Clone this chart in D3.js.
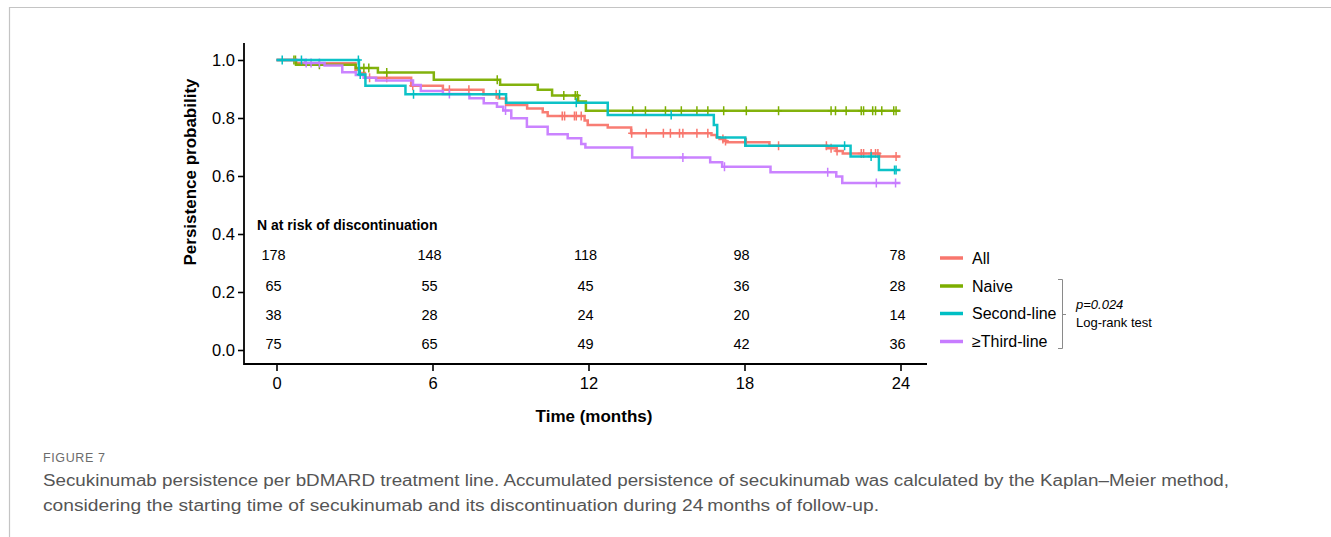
<!DOCTYPE html>
<html>
<head>
<meta charset="utf-8">
<script src="https://cdn.jsdelivr.net/npm/d3@7"></script>
<style>
  html, body { margin: 0; padding: 0; background: #fff; }
  svg { display: block; }
  text { font-family: "Liberation Sans", Arial, sans-serif; }
</style>
</head>
<body>
<svg id="chart" width="1331" height="537"></svg>
<script>
// ---- Kaplan–Meier step data (time in months, persistence probability) ----
const seriesNames = ["All", "Naive", "Second-line", "≥Third-line"];
const seriesColors = ["#F8766D", "#7CAE00", "#00BFC4", "#C77CFF"];

const allEventTimes = [0.75, 3.04, 3.2, 3.4, 5.18, 6.4, 7.96, 8.54, 8.83, 9.64, 10.24, 10.43, 11.85, 11.97, 12.74, 13.64, 16.73, 16.92, 17.04, 17.19, 17.31, 18.96, 21.17, 21.54, 21.78, 23.19];
const allSurvival   = [0.989, 0.966, 0.955, 0.939, 0.911, 0.897, 0.882, 0.867, 0.845, 0.833, 0.820, 0.807, 0.791, 0.776, 0.767, 0.747, 0.741, 0.734, 0.728, 0.721, 0.716, 0.704, 0.696, 0.686, 0.678, 0.667];
const allCensorTimes = [3.58, 4.24, 5.24, 6.65, 7.4, 8.45, 10.99, 11.08, 11.46, 11.53, 11.72, 13.66, 14.22, 14.88, 15.15, 15.5, 15.63, 16.17, 16.59, 17.17, 17.27, 18.07, 19.31, 21.15, 21.33, 21.56, 22.49, 22.58, 22.87, 23.04, 23.13, 23.83];

const naiveEventTimes = [0.75, 3.05, 3.9, 6.05, 8.6, 10.05, 10.6, 11.6, 11.9];
const naiveSurvival   = [0.984, 0.972, 0.957, 0.932, 0.915, 0.897, 0.878, 0.857, 0.825];
const naiveCensorTimes = [0.67, 0.73, 1.65, 3.36, 3.55, 4.24, 8.49, 11.05, 11.49, 11.57, 13.7, 14.19, 14.96, 15.57, 16.17, 16.59, 17.2, 18.07, 19.31, 21.33, 21.5, 21.91, 22.49, 22.58, 22.93, 23.04, 23.28, 23.74, 23.83];

const secondEventTimes = [3.17, 3.42, 4.96, 8.83, 12.74, 16.82, 16.95, 18.03, 22.08, 23.17];
const secondSurvival   = [0.950, 0.911, 0.882, 0.853, 0.810, 0.776, 0.733, 0.704, 0.667, 0.621];
const secondCensorTimes = [0.22, 0.96, 3.15, 3.22, 5.27, 8.58, 11.53, 15.18, 21.85, 22.87, 23.77, 23.83];

const thirdEventTimes = [1.1, 1.85, 2.53, 3.05, 3.35, 3.83, 5.25, 5.55, 6.4, 7.42, 7.97, 8.48, 8.72, 9.03, 9.63, 10.43, 11.2, 11.72, 11.88, 13.68, 16.68, 17.14, 19.0, 21.53, 21.76];
const thirdSurvival   = [0.990, 0.981, 0.958, 0.948, 0.939, 0.929, 0.914, 0.893, 0.883, 0.868, 0.851, 0.839, 0.826, 0.799, 0.770, 0.744, 0.730, 0.710, 0.698, 0.664, 0.647, 0.632, 0.613, 0.598, 0.576];
const thirdCensorTimes = [1.14, 1.33, 1.65, 6.65, 8.81, 15.63, 17.23, 21.2, 23.07, 23.81];

// ---- Number at risk table ----
const riskTimes = [0, 6, 12, 18, 24];
const riskAll    = [178, 148, 118, 98, 78];
const riskNaive  = [65, 55, 45, 36, 28];
const riskSecond = [38, 28, 24, 20, 14];
const riskThird  = [75, 65, 49, 42, 36];

// ---- Axis ticks ----
const xTicks = [0, 6, 12, 18, 24];
const yTicks = [0, 0.2, 0.4, 0.6, 0.8, 1.0];

const followUp = 24;

const captionTitle = "FIGURE 7";
const captionLines = [
  "Secukinumab persistence per bDMARD treatment line. Accumulated persistence of secukinumab was calculated by the Kaplan–Meier method,",
  "considering the starting time of secukinumab and its discontinuation during 24\u2009months of follow-up."
];

// ---- Drawing ----
const svg = d3.select("#chart");

// page frame
svg.append("path")
  .attr("d", "M9.5,537 V7.5 H1331")
  .attr("fill", "none").attr("stroke", "#c4c4c4").attr("stroke-width", 1.2);

const x = d3.scaleLinear().domain([0, 24]).range([276.5, 900.5]);
const y = d3.scaleLinear().domain([0, 1]).range([350, 60]);

const axisX0 = 244, axisY0 = 364;

// y axis
const gy = svg.append("g").attr("transform", `translate(${axisX0},0)`)
  .call(d3.axisLeft(y).tickValues(yTicks).tickFormat(d3.format(".1f")).tickSize(6).tickPadding(3));
gy.select(".domain").remove();
gy.selectAll(".tick line").attr("stroke", "#000").attr("stroke-width", 1.6);
gy.selectAll(".tick text").attr("font-size", 16.5).attr("fill", "#000")
  .attr("font-family", "Liberation Sans, Arial, sans-serif");

// x axis
const gx = svg.append("g").attr("transform", `translate(0,${axisY0})`)
  .call(d3.axisBottom(x).tickValues(xTicks).tickFormat(d3.format("d")).tickSize(7).tickPadding(6));
gx.select(".domain").remove();
gx.selectAll(".tick line").attr("stroke", "#000").attr("stroke-width", 1.6);
gx.selectAll(".tick text").attr("font-size", 16.5).attr("fill", "#000")
  .attr("font-family", "Liberation Sans, Arial, sans-serif");

// axis lines
svg.append("path")
  .attr("d", `M${axisX0},43 V${axisY0} H927`)
  .attr("fill", "none").attr("stroke", "#000").attr("stroke-width", 1.8);

// axis titles
svg.append("text")
  .attr("transform", "translate(196,172) rotate(-90)")
  .attr("text-anchor", "middle")
  .attr("font-size", 17).attr("font-weight", "bold")
  .text("Persistence probability");

svg.append("text")
  .attr("x", 594).attr("y", 422)
  .attr("text-anchor", "middle")
  .attr("font-size", 17).attr("font-weight", "bold")
  .text("Time (months)");

// curves
const series = [
  { times: allEventTimes, surv: allSurvival, censor: allCensorTimes, color: seriesColors[0] },
  { times: naiveEventTimes, surv: naiveSurvival, censor: naiveCensorTimes, color: seriesColors[1] },
  { times: thirdEventTimes, surv: thirdSurvival, censor: thirdCensorTimes, color: seriesColors[3] },
  { times: secondEventTimes, surv: secondSurvival, censor: secondCensorTimes, color: seriesColors[2] }
];

const stepLine = d3.line()
  .x(d => x(d[0])).y(d => y(d[1]))
  .curve(d3.curveStepAfter);

function survAt(s, t) {
  let v = 1;
  for (let i = 0; i < s.times.length; i++) {
    if (s.times[i] <= t) v = s.surv[i];
  }
  return v;
}

series.forEach(s => {
  const pts = [[0, 1]];
  s.times.forEach((t, i) => pts.push([t, s.surv[i]]));
  pts.push([followUp, s.surv[s.surv.length - 1]]);

  svg.append("path")
    .datum(pts)
    .attr("d", stepLine)
    .attr("fill", "none")
    .attr("stroke", s.color)
    .attr("stroke-width", 2.5)
    .attr("stroke-opacity", 0.95);

  // censoring marks
  svg.append("g").selectAll("path")
    .data(s.censor)
    .join("path")
    .attr("d", t => {
      const cx = x(t), cy = y(survAt(s, t));
      return `M${cx},${cy - 4.5} V${cy + 4.5} M${cx - 3.5},${cy} H${cx + 3.5}`;
    })
    .attr("stroke", s.color)
    .attr("stroke-width", 1.5)
    .attr("fill", "none");
});

// number at risk table
svg.append("text")
  .attr("x", 257).attr("y", 230)
  .attr("font-size", 14).attr("font-weight", "bold")
  .text("N at risk of discontinuation");

const riskRows = [riskAll, riskNaive, riskSecond, riskThird];
const riskRowY = [255, 286, 315, 344];
riskRows.forEach((row, r) => {
  svg.append("g").selectAll("text")
    .data(row)
    .join("text")
    .attr("x", (d, i) => x(riskTimes[i]) - 3)
    .attr("y", riskRowY[r])
    .attr("dy", "0.35em")
    .attr("text-anchor", "middle")
    .attr("font-size", 14.5)
    .text(d => d);
});

// legend
const legendY = [258, 286, 313.5, 341.5];
seriesNames.forEach((name, i) => {
  svg.append("line")
    .attr("x1", 940).attr("x2", 963)
    .attr("y1", legendY[i]).attr("y2", legendY[i])
    .attr("stroke", seriesColors[i]).attr("stroke-width", 3.5);
  svg.append("text")
    .attr("x", 972).attr("y", legendY[i])
    .attr("dy", "0.36em")
    .attr("font-size", 16)
    .text(name);
});

// log-rank bracket
svg.append("path")
  .attr("d", "M1058,279.5 H1062.5 V348.5 H1058 M1062.5,314.5 H1066")
  .attr("fill", "none").attr("stroke", "#8a8a8a").attr("stroke-width", 1);
svg.append("text")
  .attr("x", 1076).attr("y", 309)
  .attr("font-size", 13).attr("font-style", "italic")
  .text("p=0.024");
svg.append("text")
  .attr("x", 1076).attr("y", 327)
  .attr("font-size", 13)
  .text("Log-rank test");

// caption
svg.append("text")
  .attr("x", 43).attr("y", 462)
  .attr("font-family", "'Open Sans', 'Noto Sans', sans-serif")
  .attr("font-size", 12.5).attr("fill", "#6b6b6b")
  .attr("textLength", 62).attr("lengthAdjust", "spacing")
  .text(captionTitle);

svg.append("g").selectAll("text")
  .data(captionLines)
  .join("text")
  .attr("x", 43)
  .attr("y", (d, i) => 486 + i * 25)
  .attr("font-family", "'Open Sans', 'Noto Sans', sans-serif")
  .attr("font-size", 16).attr("fill", "#555")
  .attr("textLength", (d, i) => i === 0 ? 1186 : 836)
  .attr("lengthAdjust", "spacingAndGlyphs")
  .text(d => d);
</script>
</body>
</html>
